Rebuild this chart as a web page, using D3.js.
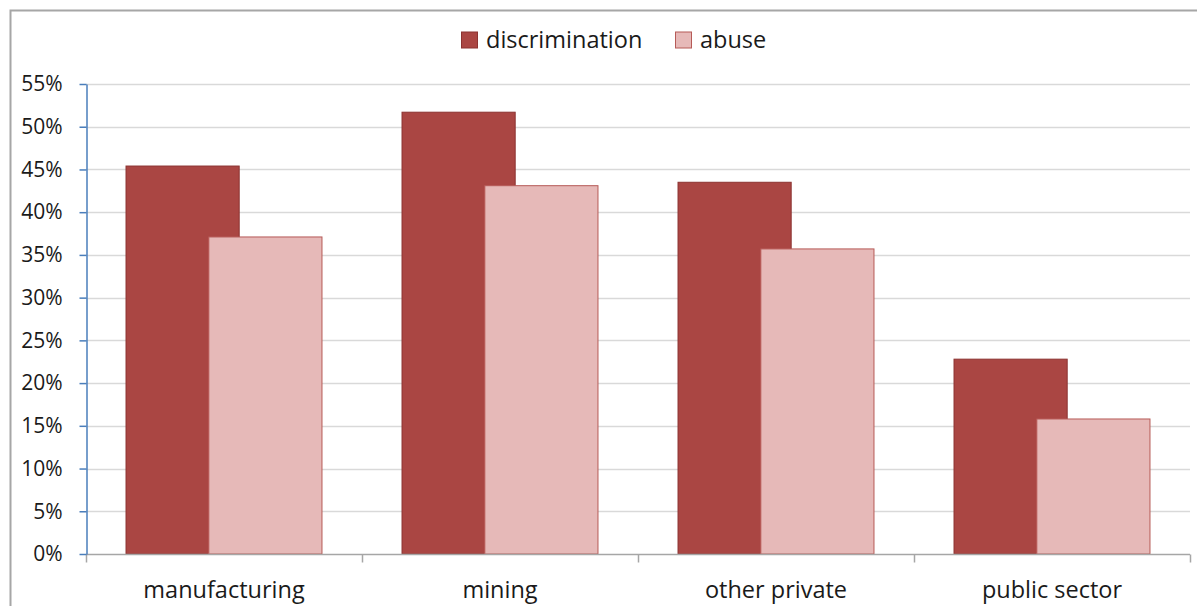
<!DOCTYPE html>
<html>
<head>
<meta charset="utf-8">
<script src="https://cdn.jsdelivr.net/npm/d3@7"></script>
<style>
  html, body { margin: 0; padding: 0; background: #fff; }
  svg { display: block; }
  text { font-family: "Open Sans", "Noto Sans", sans-serif; fill: #1a1a1a; }
</style>
</head>
<body>
<svg id="chart" width="1197" height="606"></svg>
<script>
// Share of respondents reporting each problem, by sector
const categories = ["manufacturing", "mining", "other private", "public sector"];
const seriesNames = ["discrimination", "abuse"];
const discrimination = [0.454, 0.517, 0.435, 0.228];
const abuse = [0.371, 0.431, 0.357, 0.158];
const yTicks = [0, 0.05, 0.10, 0.15, 0.20, 0.25, 0.30, 0.35, 0.40, 0.45, 0.50, 0.55];

const fills = { discrimination: "#aa4643", abuse: "#e6b9b8" };
const strokes = { discrimination: "#8c3331", abuse: "#b65a57" };

const svg = d3.select("#chart");
const W = 1197, H = 606;
const plot = { left: 86, right: 1190, top: 84, bottom: 554 };

// Outer frame (runs off the right and bottom edges)
svg.append("rect")
  .attr("x", 10.5).attr("y", 10.5)
  .attr("width", W + 20).attr("height", H + 20)
  .attr("fill", "none").attr("stroke", "#a6a6a6").attr("stroke-width", 2);

const x = d3.scaleBand().domain(categories).range([plot.left, plot.right]).padding(0);
const y = d3.scaleLinear().domain([0, 0.55]).range([plot.bottom, plot.top]);

// Gridlines
svg.append("g").selectAll("line").data(yTicks.slice(1)).join("line")
  .attr("x1", plot.left).attr("x2", plot.right)
  .attr("y1", d => Math.round(y(d)) + 0.5).attr("y2", d => Math.round(y(d)) + 0.5)
  .attr("stroke", "#d9d9d9").attr("stroke-width", 1.5);

// Bars: two overlapping columns per category
const bw = x.bandwidth();
const barW = bw * 0.41;
const offset = bw * 0.30;
const sideGap = (bw - barW - offset) / 2;
const series = [
  { name: "discrimination", values: discrimination, dx: sideGap },
  { name: "abuse", values: abuse, dx: sideGap + offset }
];
series.forEach(s => {
  svg.append("g").selectAll("rect").data(categories).join("rect")
    .attr("x", (c) => x(c) + s.dx)
    .attr("y", (c, i) => y(s.values[i]))
    .attr("width", barW)
    .attr("height", (c, i) => y(0) - y(s.values[i]))
    .attr("fill", fills[s.name])
    .attr("stroke", strokes[s.name])
    .attr("stroke-width", 1);
});

// X axis
const xAxis = svg.append("g").attr("transform", `translate(0,${plot.bottom + 0.5})`);
xAxis.append("line").attr("x1", plot.left).attr("x2", plot.right)
  .attr("stroke", "#a6a6a6").attr("stroke-width", 1.5);
const boundaries = categories.map(c => x(c)).concat([plot.right]);
xAxis.selectAll("line.tick").data(boundaries).join("line").attr("class", "tick")
  .attr("x1", d => Math.round(d) + 0.5).attr("x2", d => Math.round(d) + 0.5)
  .attr("y1", 0).attr("y2", 8)
  .attr("stroke", "#a6a6a6").attr("stroke-width", 1.5);
xAxis.selectAll("text").data(categories).join("text")
  .attr("x", c => x(c) + bw / 2).attr("y", 43)
  .attr("text-anchor", "middle").attr("font-size", 23.5)
  .text(d => d);

// Y axis
const yAxis = svg.append("g").attr("transform", `translate(${plot.left + 0.5},0)`)
  .call(d3.axisLeft(y).tickValues(yTicks).tickFormat(d3.format(".0%")).tickSizeInner(7).tickSizeOuter(0).tickPadding(17));
yAxis.select(".domain").attr("stroke", "#4a7ebb").attr("stroke-width", 1.5);
yAxis.selectAll(".tick line").attr("stroke", "#4a7ebb").attr("stroke-width", 1.5);
yAxis.selectAll(".tick text").attr("font-size", 21).attr("font-family", "Open Sans, Noto Sans, sans-serif").attr("fill", "#1a1a1a");

// Legend
const legend = svg.append("g").attr("transform", "translate(461,40)");
const items = [
  { name: seriesNames[0], x: 0 },
  { name: seriesNames[1], x: 214 }
];
items.forEach(it => {
  const g = legend.append("g").attr("transform", `translate(${it.x},0)`);
  g.append("rect").attr("x", 0.5).attr("y", -8).attr("width", 16).attr("height", 16)
    .attr("fill", fills[it.name]).attr("stroke", strokes[it.name]).attr("stroke-width", 1);
  g.append("text").attr("x", 25).attr("y", 0).attr("dy", "0.35em")
    .attr("font-size", 23.5).text(it.name);
});
</script>
</body>
</html>
